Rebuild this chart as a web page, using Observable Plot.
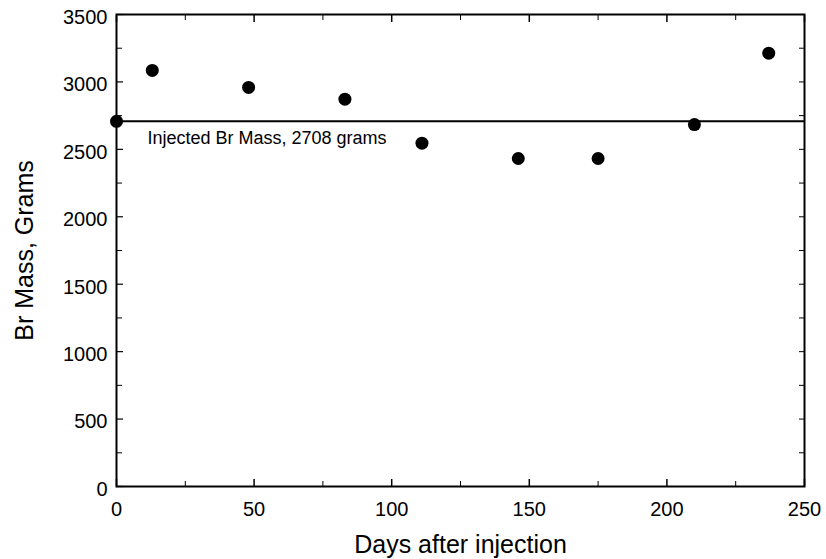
<!DOCTYPE html>
<html>
<head>
<meta charset="utf-8">
<script src="https://cdn.jsdelivr.net/npm/d3@7"></script>
<script src="https://cdn.jsdelivr.net/npm/@observablehq/plot@0.6"></script>
<style>
  html, body { margin: 0; padding: 0; background: #fff; }
  #chart { width: 826px; height: 559px; }
  svg { font-family: "Liberation Sans", Arial, sans-serif; }
</style>
</head>
<body>
<div id="chart"></div>
<script>
// Data
const days = [0, 13, 48, 83, 111, 146, 175, 210, 237];
const brMass = [2708, 3085, 2959, 2872, 2546, 2432, 2432, 2684, 3213];
const injectedMass = 2708;
const injectedLabel = "Injected Br Mass, 2708 grams";

const xMajorTicks = [0, 50, 100, 150, 200, 250];
const xMinorTicks = [25, 75, 125, 175, 225];
const yMajorTicks = [0, 500, 1000, 1500, 2000, 2500, 3000, 3500];
const yMinorTicks = [250, 750, 1250, 1750, 2250, 2750, 3250];

const points = days.map((d, i) => ({day: d, mass: brMass[i]}));

const chart = Plot.plot({
  width: 826,
  height: 559,
  marginLeft: 116,
  marginRight: 22,
  marginTop: 14,
  marginBottom: 73,
  style: {fontFamily: "Liberation Sans, Arial, sans-serif", color: "black", background: "white"},
  x: {domain: [0, 250]},
  y: {domain: [0, 3500]},
  marks: [
    // bottom axis: labels + inward ticks
    Plot.axisX(xMajorTicks, {anchor: "bottom", tickSize: 0, tickPadding: 15, tickFormat: d => String(d), label: "Days after injection", labelAnchor: "center", labelArrow: "none", labelOffset: 66}),
    Plot.axisX(xMajorTicks, {anchor: "bottom", tickSize: -7, fill: "none", label: null, strokeWidth: 1.5}),
    Plot.axisX(xMinorTicks, {anchor: "bottom", tickSize: -5, fill: "none", label: null, strokeWidth: 1}),
    Plot.axisX(xMajorTicks, {anchor: "top", tickSize: -7, fill: "none", label: null, strokeWidth: 1.5}),
    Plot.axisX(xMinorTicks, {anchor: "top", tickSize: -5, fill: "none", label: null, strokeWidth: 1}),
    // left axis
    Plot.axisY(yMajorTicks, {anchor: "left", tickSize: 0, tickPadding: 9, dy: 3, tickFormat: d => String(d), label: "Br Mass, Grams", labelAnchor: "center", labelArrow: "none", labelOffset: 101}),
    Plot.axisY(yMajorTicks, {anchor: "left", tickSize: -7, fill: "none", label: null, strokeWidth: 1.2}),
    Plot.axisY(yMinorTicks, {anchor: "left", tickSize: -6, fill: "none", label: null, strokeWidth: 1}),
    Plot.axisY(yMajorTicks, {anchor: "right", tickSize: -6, fill: "none", label: null, strokeWidth: 1}),
    Plot.axisY(yMinorTicks, {anchor: "right", tickSize: -6, fill: "none", label: null, strokeWidth: 1}),
    Plot.frame({stroke: "black", strokeWidth: 2}),
    Plot.ruleY([injectedMass], {stroke: "black", strokeWidth: 2}),
    Plot.text([injectedLabel], {x: 0, y: injectedMass, text: d => d, textAnchor: "start", dx: 31, dy: 17, fontSize: 18, fill: "black"}),
    Plot.dot(points, {x: "day", y: "mass", r: 6.5, fill: "black", stroke: "none"})
  ]
});

// font sizes for tick labels and axis titles
chart.querySelectorAll("[aria-label='x-axis tick label'], [aria-label='y-axis tick label']").forEach(g => {
  g.setAttribute("font-size", "20");
  g.querySelectorAll("text").forEach(t => t.setAttribute("font-size", "20"));
});
chart.querySelectorAll("[aria-label='x-axis label'] text, [aria-label='y-axis label'] text").forEach(t => {
  t.setAttribute("font-size", "25");
});
document.getElementById("chart").appendChild(chart);
</script>
</body>
</html>
